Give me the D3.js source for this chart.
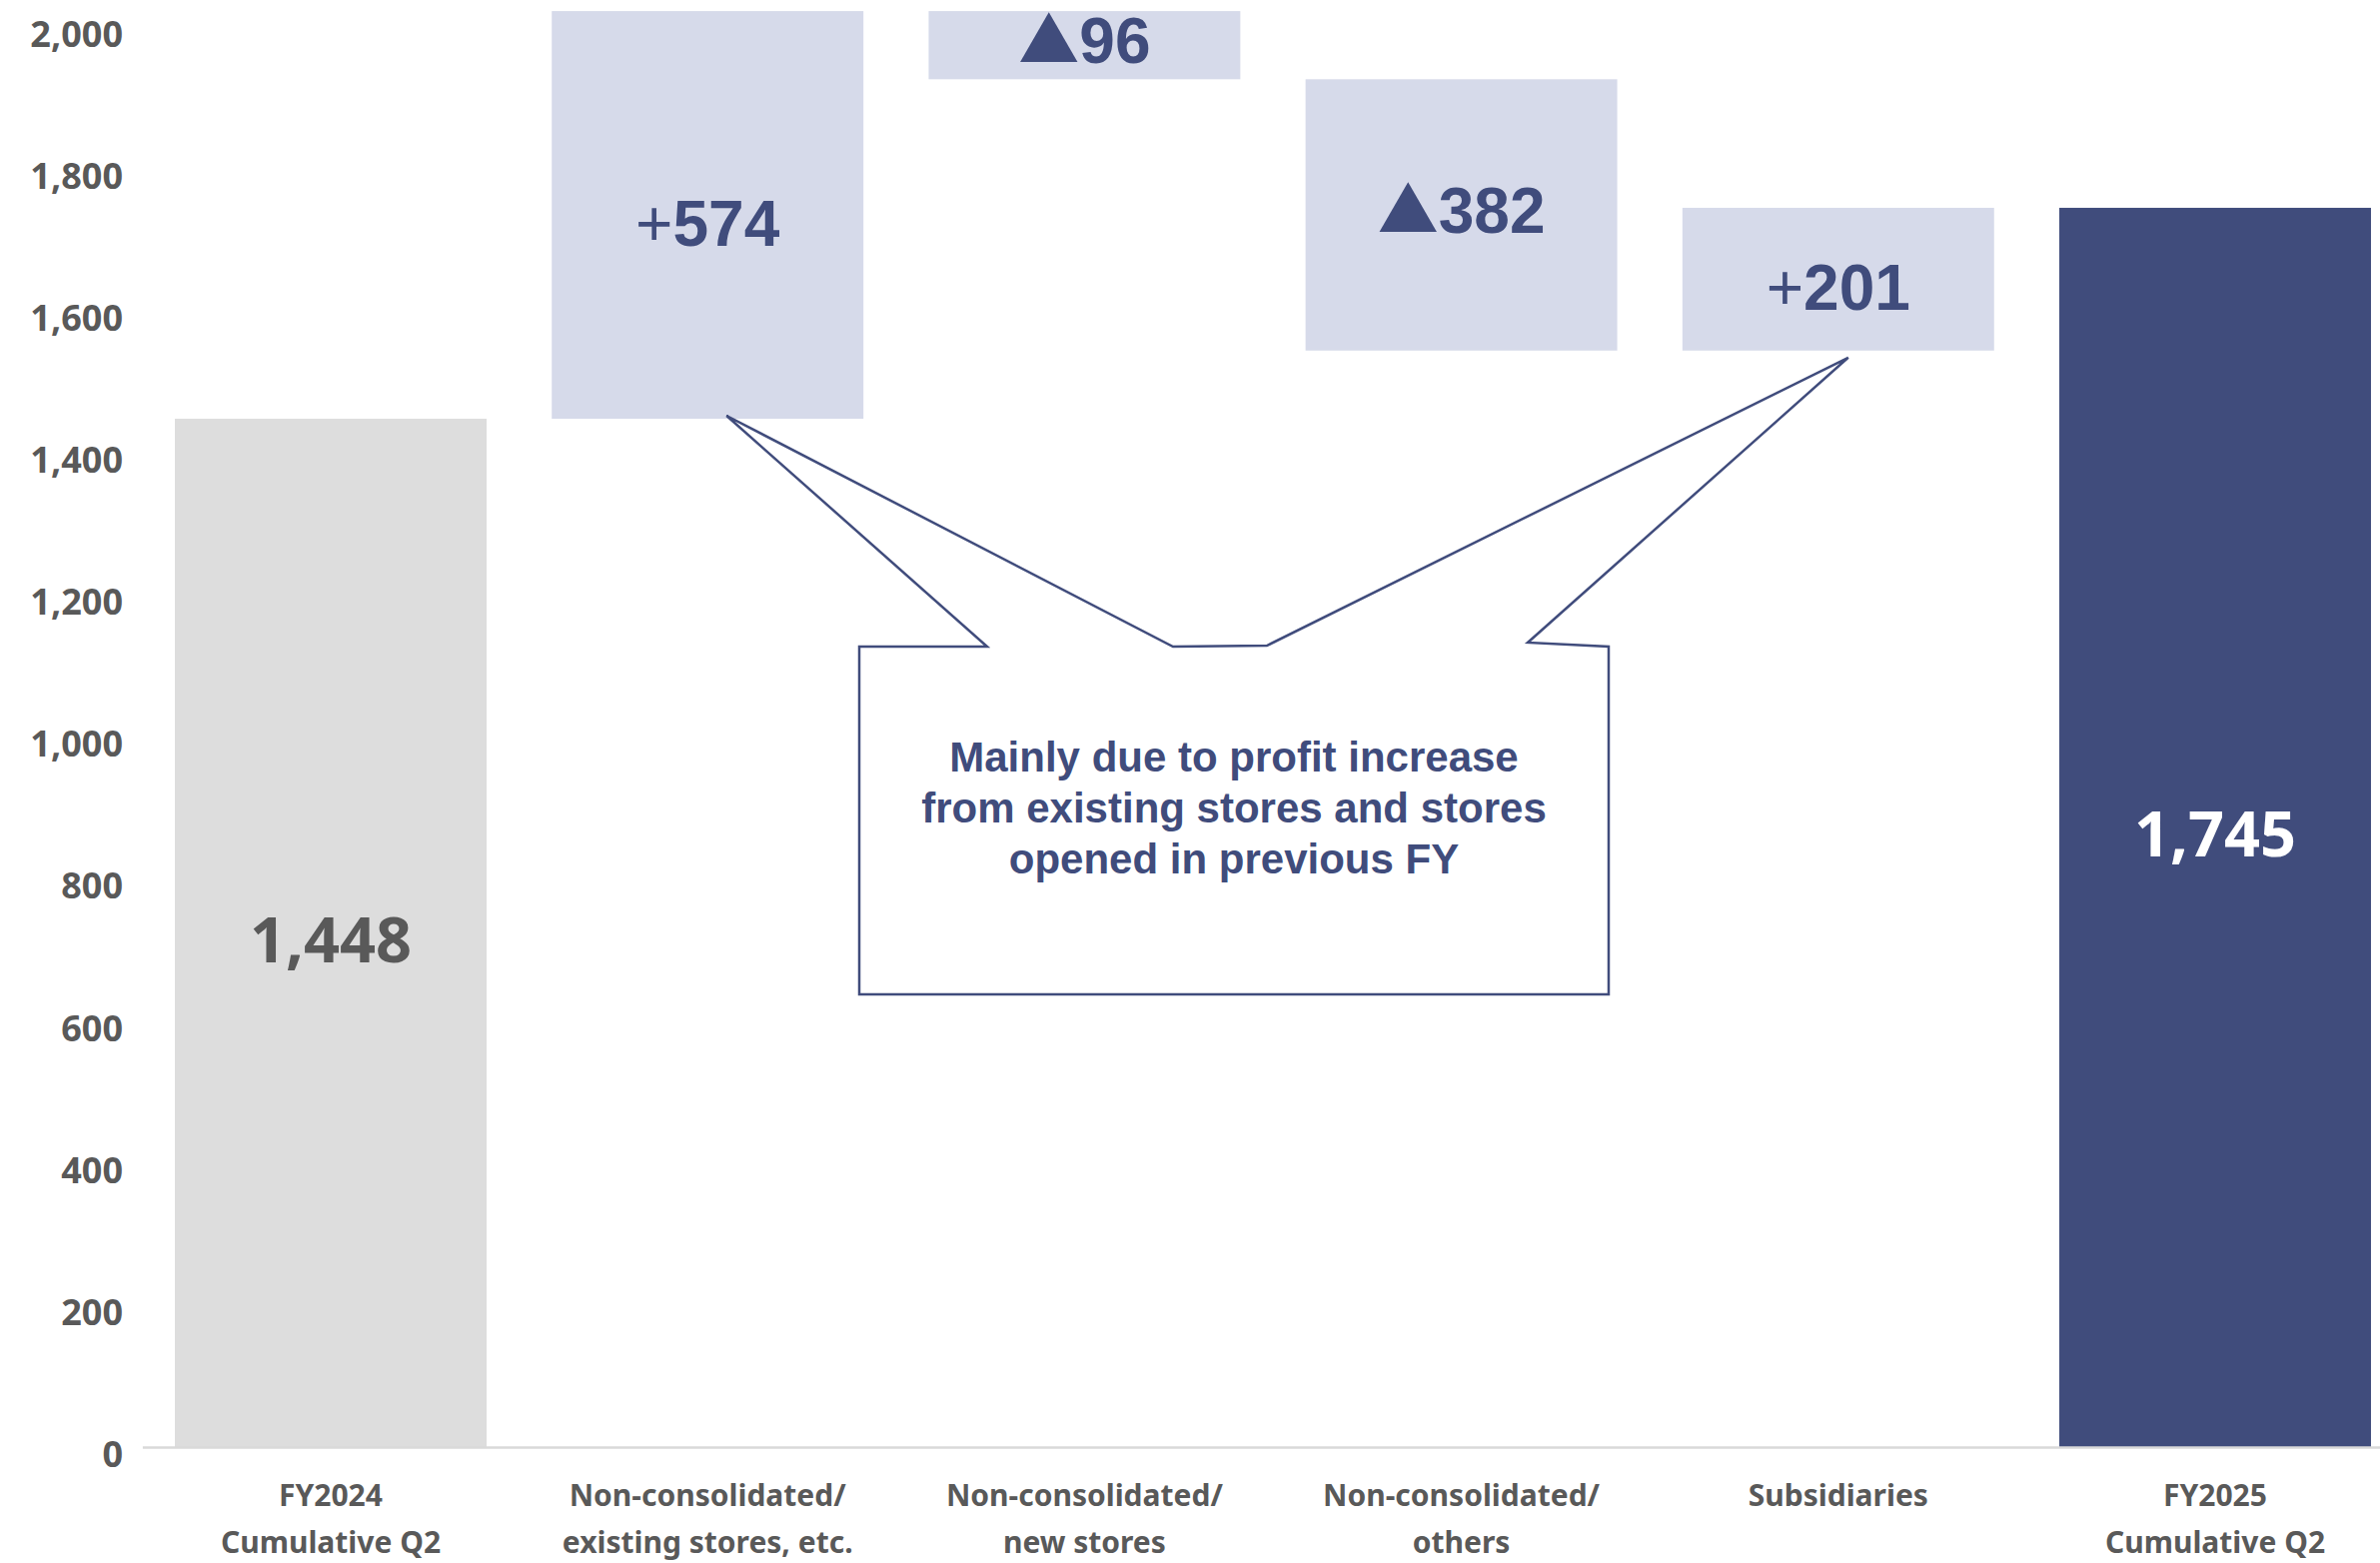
<!DOCTYPE html>
<html>
<head>
<meta charset="utf-8">
<script src="https://cdn.jsdelivr.net/npm/d3@7"></script>
<style>
  html, body { margin: 0; padding: 0; background: #ffffff; }
  svg { display: block; }
</style>
</head>
<body>
<svg id="chart" width="2382" height="1564"></svg>
<script>
// Operating profit bridge, FY2024 Q2 cumulative -> FY2025 Q2 cumulative
const categories = [
  ["FY2024", "Cumulative Q2"],
  ["Non-consolidated/", "existing stores, etc."],
  ["Non-consolidated/", "new stores"],
  ["Non-consolidated/", "others"],
  ["Subsidiaries"],
  ["FY2025", "Cumulative Q2"]
];
const values = [1448, 574, -96, -382, 201, 1745];
const kinds = ["start", "delta", "delta", "delta", "delta", "end"];
const yTicks = [0, 200, 400, 600, 800, 1000, 1200, 1400, 1600, 1800, 2000];
const noteLines = [
  "Mainly due to profit increase",
  "from existing stores and stores",
  "opened in previous FY"
];

const W = 2382, H = 1564;
const svg = d3.select("#chart");

const NAVY = "#404c7c";
const GREY_TEXT = "#595959";

// Waterfall extents: totals start at zero, deltas float on the running sum
let running = 0;
const bars = values.map((v, i) => {
  let lo, hi;
  if (kinds[i] === "delta") {
    const start = running;
    running += v;
    lo = Math.min(start, running);
    hi = Math.max(start, running);
  } else {
    running = v;
    lo = 0;
    hi = v;
  }
  return { i, v, kind: kinds[i], lo, hi };
});

const x = d3.scaleBand()
  .domain(d3.range(categories.length))
  .range([142.4, 2405.6])
  .paddingInner(0.173)
  .paddingOuter(0.0865);

const y = d3.scaleLinear()
  .domain([0, 2000])
  .range([1448, 1448 - 2000 * (1029 / 1448)]);

// Y axis labels
const yAxis = svg.append("g")
  .attr("transform", "translate(142,0)")
  .call(d3.axisLeft(y).tickValues(yTicks).tickSize(0).tickPadding(19).tickFormat(d3.format(",")));
yAxis.select(".domain").remove();
yAxis.selectAll("text")
  .attr("dy", 19.5)
  .attr("fill", GREY_TEXT)
  .style("font-family", "'Noto Sans', sans-serif")
  .style("font-weight", "bold")
  .style("font-size", "36px");

// Bars
const fillFor = d => d.kind === "start" ? "#dddddd" : d.kind === "end" ? "#404c7c" : "#d6daea";
svg.append("g").selectAll("rect")
  .data(bars)
  .join("rect")
  .attr("x", d => x(d.i))
  .attr("width", x.bandwidth())
  .attr("y", d => y(d.hi))
  .attr("height", d => y(d.lo) - y(d.hi))
  .attr("fill", fillFor);

// Baseline axis
const xAxis = svg.append("g")
  .attr("transform", `translate(0,${y(0)})`)
  .call(d3.axisBottom(x).tickSize(0).tickSizeOuter(0).tickFormat(""));
xAxis.select(".domain").attr("stroke", "#d9d9d9").attr("stroke-width", 2.5);
xAxis.selectAll(".tick").remove();

// Category labels (two lines)
const catG = svg.append("g");
categories.forEach((lines, i) => {
  const t = catG.append("text")
    .attr("x", x(i) + x.bandwidth() / 2)
    .attr("y", 1507)
    .attr("text-anchor", "middle")
    .attr("fill", GREY_TEXT)
    .style("font-family", "'Noto Sans', sans-serif")
    .style("font-weight", "bold")
    .style("font-size", "30px");
  lines.forEach((ln, k) => {
    t.append("tspan")
      .attr("x", x(i) + x.bandwidth() / 2)
      .attr("dy", k === 0 ? 0 : 47)
      .text(ln);
  });
});

// Value labels
const fmt = d3.format(",");
bars.forEach(d => {
  const cx = x(d.i) + x.bandwidth() / 2;
  const mid = (y(d.lo) + y(d.hi)) / 2;
  if (d.kind === "delta") {
    const baseline = mid + (d.v < 0 ? -6 : 7) + 23.5;
    const t = svg.append("text")
      .attr("x", cx)
      .attr("y", baseline)
      .attr("text-anchor", "middle")
      .attr("fill", NAVY)
      .style("font-family", "'Liberation Sans', Arial, sans-serif")
      .style("font-size", "64px");
    if (d.v < 0) {
      t.append("tspan")
        .style("font-family", "'Noto Sans CJK JP', sans-serif")
        .style("font-size", "61px")
        .text("▲");
    } else {
      t.append("tspan")
        .style("font-weight", "normal")
        .text("+");
    }
    t.append("tspan")
      .style("font-weight", "bold")
      .text(Math.abs(d.v));
  } else {
    svg.append("text")
      .attr("x", cx)
      .attr("y", mid + 6.5 + 23)
      .attr("text-anchor", "middle")
      .attr("fill", d.kind === "end" ? "#ffffff" : GREY_TEXT)
      .style("font-family", "'Noto Sans', sans-serif")
      .style("font-weight", "bold")
      .style("font-size", "63px")
      .text(fmt(d.v));
  }
});

// Callout box with pointers to the existing-store and subsidiary bars
const tip1 = [x(1) + x.bandwidth() / 2 + 19, y(bars[1].lo) - 3];
const tip2 = [x(4) + x.bandwidth() / 2 + 10, y(bars[4].lo) + 7];
const box = { l: 860, r: 1610, t: 647, b: 995 };
const calloutPts = [
  [box.l, box.t],
  [988, box.t],
  tip1,
  [1174, box.t],
  [1268, box.t - 1],
  tip2,
  [1529, box.t - 4],
  [box.r, box.t],
  [box.r, box.b],
  [box.l, box.b]
];
svg.append("path")
  .attr("d", d3.line()(calloutPts) + "Z")
  .attr("fill", "#ffffff")
  .attr("stroke", NAVY)
  .attr("stroke-width", 2.5)
  .attr("stroke-linejoin", "miter");

const note = svg.append("text")
  .attr("text-anchor", "middle")
  .attr("fill", NAVY)
  .style("font-family", "'Liberation Sans', Arial, sans-serif")
  .style("font-weight", "bold")
  .style("font-size", "42px");
noteLines.forEach((ln, k) => {
  note.append("tspan")
    .attr("x", (box.l + box.r) / 2)
    .attr("y", 772 + k * 51)
    .text(ln);
});
</script>
</body>
</html>
